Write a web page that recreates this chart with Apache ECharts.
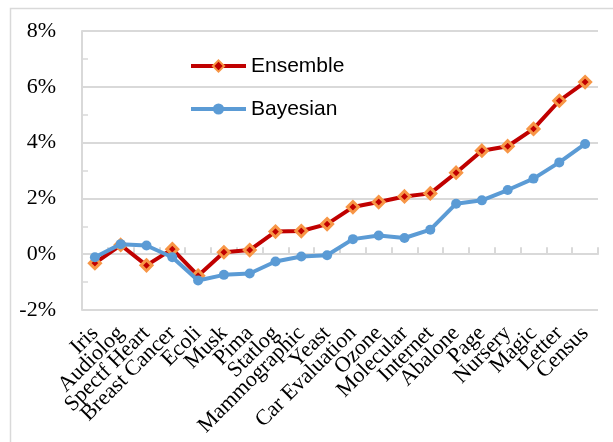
<!DOCTYPE html>
<html>
<head>
<meta charset="utf-8">
<script src="https://cdn.jsdelivr.net/npm/echarts@6/dist/echarts.min.js"></script>
<style>html,body{margin:0;padding:0;background:#fff;}#c{width:613px;height:442px;}</style>
</head>
<body>
<div id="c"></div>
<script>
const categories = ['Iris','Audiolog','Spectf Heart','Breast Cancer','Ecoli','Musk','Pima','Statlog','Mammographic','Yeast','Car Evaluation','Ozone','Molecular','Internet','Abalone','Page','Nursery','Magic','Letter','Census'];
const ensemble = [-0.32,0.33,-0.40,0.18,-0.77,0.07,0.15,0.81,0.83,1.08,1.69,1.87,2.07,2.18,2.92,3.71,3.87,4.49,5.50,6.17];
const bayesian = [-0.11,0.36,0.31,-0.11,-0.94,-0.74,-0.69,-0.26,-0.08,-0.04,0.54,0.67,0.58,0.88,1.81,1.93,2.30,2.71,3.29,3.95];
const yTicks = { min: -2, max: 8, interval: 2 };

const chart = echarts.init(document.getElementById('c'), null, {renderer:'canvas'});
const gray = '#D9D9D9';
chart.setOption({
  animation: false,
  backgroundColor: '#fff',
  graphic: [{
    type: 'rect', silent: true, z: -1,
    shape: { x: 10.5, y: 8.5, width: 700, height: 600 },
    style: { fill: 'none', stroke: gray, lineWidth: 1.5 }
  }],
  grid: { left: 82, right: 15, top: 31, bottom: 132 },
  legend: {
    orient: 'vertical', left: 184, top: 49,
    itemWidth: 55, itemHeight: 14, itemGap: 19,
    textStyle: { fontFamily: 'Liberation Sans', fontSize: 21, color: '#000', lineHeight: 24 },
    data: [
      { name: 'Ensemble', lineStyle: { width: 4 } },
      { name: 'Bayesian', lineStyle: { width: 4 } }
    ]
  },
  xAxis: {
    type: 'category', data: categories, boundaryGap: true,
    axisLine: { lineStyle: { color: gray, width: 2 } },
    axisTick: { show: true, inside: true, length: 7, lineStyle: { color: gray, width: 2 } },
    axisLabel: { rotate: 45, margin: 20, interval: 0, fontFamily: 'Liberation Serif', fontSize: 22, color: '#000' },
    splitLine: { show: false }
  },
  yAxis: {
    type: 'value', min: yTicks.min, max: yTicks.max, interval: yTicks.interval,
    axisLine: { show: true, lineStyle: { color: gray, width: 2 } },
    axisTick: { show: true, inside: true, length: 6, lineStyle: { color: gray, width: 1.5 } },
    minorTick: { show: true, splitNumber: 2, length: 6, lineStyle: { color: gray, width: 1.5 } },
    axisLabel: { formatter: '{value}%', margin: 26, fontFamily: 'Liberation Serif', fontSize: 22, color: '#000' },
    splitLine: { show: true, lineStyle: { color: gray, width: 2 } }
  },
  series: [
    {
      name: 'Ensemble', type: 'line', data: ensemble, z: 3,
      symbol: 'diamond', symbolSize: 11,
      lineStyle: { color: '#C00000', width: 4 },
      itemStyle: { color: '#C00000', borderColor: '#F79646', borderWidth: 3 }
    },
    {
      name: 'Bayesian', type: 'line', data: bayesian, z: 4,
      symbol: 'circle', symbolSize: 10,
      lineStyle: { color: '#5B9BD5', width: 4 },
      itemStyle: { color: '#5B9BD5' }
    }
  ]
});
</script>
</body>
</html>
